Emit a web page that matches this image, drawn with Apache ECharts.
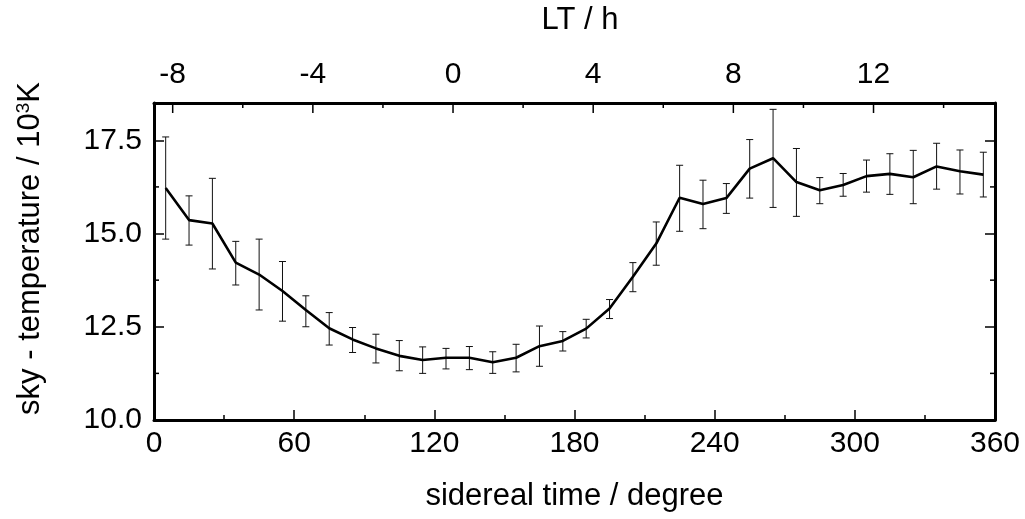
<!DOCTYPE html>
<html>
<head>
<meta charset="utf-8">
<script src="https://cdn.jsdelivr.net/npm/echarts@6/dist/echarts.min.js"></script>
<style>html,body{margin:0;padding:0;background:#fff}#c{width:1025px;height:519px}</style>
</head>
<body>
<div id="c"></div>
<script>
// sidereal time (degree) of each bin centre
var siderealTime = [5,15,25,35,45,55,65,75,85,95,105,115,125,135,145,155,165,175,185,195,205,215,225,235,245,255,265,275,285,295,305,315,325,335,345,355];
// mean sky temperature (10^3 K)
var skyTemp = [16.22,15.36,15.27,14.22,13.90,13.46,12.95,12.46,12.16,11.92,11.72,11.61,11.67,11.67,11.55,11.67,11.98,12.12,12.45,12.99,13.84,14.73,15.96,15.79,15.95,16.74,17.02,16.38,16.16,16.30,16.54,16.60,16.51,16.80,16.67,16.58];
// error bar upper limit
var errHigh = [17.59,16.01,16.48,14.79,14.85,14.25,13.33,12.88,12.48,12.30,12.13,11.96,11.92,11.97,11.83,12.03,12.52,12.37,12.70,13.23,14.22,15.31,16.83,16.43,16.34,17.52,18.33,17.28,16.50,16.61,16.97,17.14,17.23,17.42,17.24,17.18];
// error bar lower limit
var errLow = [14.85,14.69,14.05,13.62,12.95,12.65,12.50,12.01,11.81,11.53,11.32,11.25,11.37,11.35,11.25,11.29,11.44,11.85,12.20,12.72,13.44,14.15,15.06,15.13,15.54,15.95,15.70,15.46,15.80,16.00,16.11,16.05,15.80,16.19,16.06,15.98];
// top axis (local time, hours) tick labels
var ltMajorTicks = [-8,-4,0,4,8,12];
var ltMinorTicks = [-6,-2,2,6,10,14];
// minor y ticks
var yMinorTicks = [11.25,13.75,16.25];

var FONT = 'Liberation Sans, Arial, sans-serif';
var FS = 30;
var NFS = 31;
var Y_MIN = 10, Y_MAX = 18.5;
var LT_OFFSET = 128 / 15; // LT = (ST - 128)/15

var chart = echarts.init(document.getElementById('c'), null, {renderer: 'canvas'});

var lineData = siderealTime.map(function (x, i) { return [x, skyTemp[i]]; });
var errData = siderealTime.map(function (x, i) { return [x, errLow[i], errHigh[i]]; });
var ltData = ltMajorTicks.map(function (v) { return [v, 1]; }).concat(ltMinorTicks.map(function (v) { return [v, 0]; }));
var yMinorData = yMinorTicks.map(function (v) { return [180, v]; });

var option = {
  animation: false,
  backgroundColor: '#fff',
  grid: {left: 154, right: 30, top: 103, bottom: 99, show: false},
  xAxis: [{
    type: 'value', position: 'bottom', min: 0, max: 360, interval: 60,
    name: 'sidereal time / degree', nameLocation: 'middle', nameGap: 61,
    nameTextStyle: {fontFamily: FONT, fontSize: NFS, color: '#000'},
    axisLine: {show: true, lineStyle: {color: '#000', width: 3}},
    axisTick: {show: true, inside: true, length: 10, lineStyle: {color: '#000', width: 1.5}},
    minorTick: {show: true, splitNumber: 2, length: 5, lineStyle: {color: '#000', width: 1.5}},
    axisLabel: {fontFamily: FONT, fontSize: FS, color: '#000', margin: 9},
    splitLine: {show: false}
  }, {
    type: 'value', position: 'top', min: -LT_OFFSET, max: 24 - LT_OFFSET,
    name: 'LT / h', nameLocation: 'middle', nameGap: 67,
    nameTextStyle: {fontFamily: FONT, fontSize: NFS, color: '#000', padding: [0, 0, 0, 11]},
    axisLine: {show: true, onZero: false, lineStyle: {color: '#000', width: 3}},
    axisTick: {show: false}, axisLabel: {show: false}, splitLine: {show: false}
  }],
  yAxis: [{
    type: 'value', position: 'left', min: Y_MIN, max: Y_MAX, interval: 2.5,
    name: '{a|sky - temperature / 10}{s|3}{a|K}', nameLocation: 'middle', nameGap: 107, nameRotate: 90,
    nameTextStyle: {padding: [0, 0, 0, 26], rich: {
      a: {fontFamily: FONT, fontSize: NFS, color: '#000'},
      s: {fontFamily: FONT, fontSize: 19, color: '#000', verticalAlign: 'top', padding: [0, 0, 14, 0]}
    }},
    axisLine: {show: true, onZero: false, lineStyle: {color: '#000', width: 3}},
    axisTick: {show: true, inside: true, length: 10, lineStyle: {color: '#000', width: 1.5}},
    axisLabel: {fontFamily: FONT, fontSize: FS, color: '#000', margin: 12, showMaxLabel: false,
      formatter: function (v) { return v.toFixed(1); }},
    splitLine: {show: false}
  }, {
    type: 'value', position: 'right', min: Y_MIN, max: Y_MAX, interval: 2.5,
    axisLine: {show: true, onZero: false, lineStyle: {color: '#000', width: 3}},
    axisTick: {show: true, inside: true, length: 10, lineStyle: {color: '#000', width: 1.5}},
    axisLabel: {show: false}, splitLine: {show: false}
  }],
  series: [{
    type: 'custom', name: 'errors', xAxisIndex: 0, yAxisIndex: 0,
    data: errData, encode: {x: 0, y: [1, 2]}, z: 2,
    renderItem: function (params, api) {
      var x = api.value(0);
      var lo = api.coord([x, api.value(1)]);
      var hi = api.coord([x, api.value(2)]);
      var hw = 3.5;
      var st = {stroke: '#111', lineWidth: 1};
      return {type: 'group', children: [
        {type: 'line', shape: {x1: lo[0], y1: lo[1], x2: hi[0], y2: hi[1]}, style: st},
        {type: 'line', shape: {x1: lo[0] - hw, y1: lo[1], x2: lo[0] + hw, y2: lo[1]}, style: st},
        {type: 'line', shape: {x1: hi[0] - hw, y1: hi[1], x2: hi[0] + hw, y2: hi[1]}, style: st}
      ]};
    }
  }, {
    type: 'line', name: 'temp', xAxisIndex: 0, yAxisIndex: 0, data: lineData,
    symbol: 'none', lineStyle: {color: '#000', width: 2.6}, z: 3
  }, {
    type: 'custom', name: 'ltTicks', xAxisIndex: 1, yAxisIndex: 0,
    data: ltData, encode: {x: 0}, z: 4, clip: false,
    renderItem: function (params, api) {
      var v = api.value(0);
      var p = api.coord([v, Y_MAX]);
      var major = api.value(1) === 1;
      var ch = [{type: 'line', shape: {x1: p[0], y1: p[1], x2: p[0], y2: p[1] + (major ? 10 : 5)},
        style: {stroke: '#000', lineWidth: 1.5}}];
      if (major) {
        ch.push({type: 'text', x: p[0], y: p[1] - 13, style: {text: String(v), fontFamily: FONT, fontSize: FS,
          fill: '#000', align: 'center', verticalAlign: 'bottom'}});
      }
      return {type: 'group', children: ch};
    }
  }, {
    type: 'custom', name: 'yMinor', xAxisIndex: 0, yAxisIndex: 0,
    data: yMinorData, encode: {y: 1}, z: 4,
    renderItem: function (params, api) {
      var l = api.coord([0, api.value(1)]);
      var r = api.coord([360, api.value(1)]);
      var st = {stroke: '#000', lineWidth: 1.5};
      return {type: 'group', children: [
        {type: 'line', shape: {x1: l[0], y1: l[1], x2: l[0] + 5, y2: l[1]}, style: st},
        {type: 'line', shape: {x1: r[0], y1: r[1], x2: r[0] - 5, y2: r[1]}, style: st}
      ]};
    }
  }]
};
chart.setOption(option);
</script>
</body>
</html>
